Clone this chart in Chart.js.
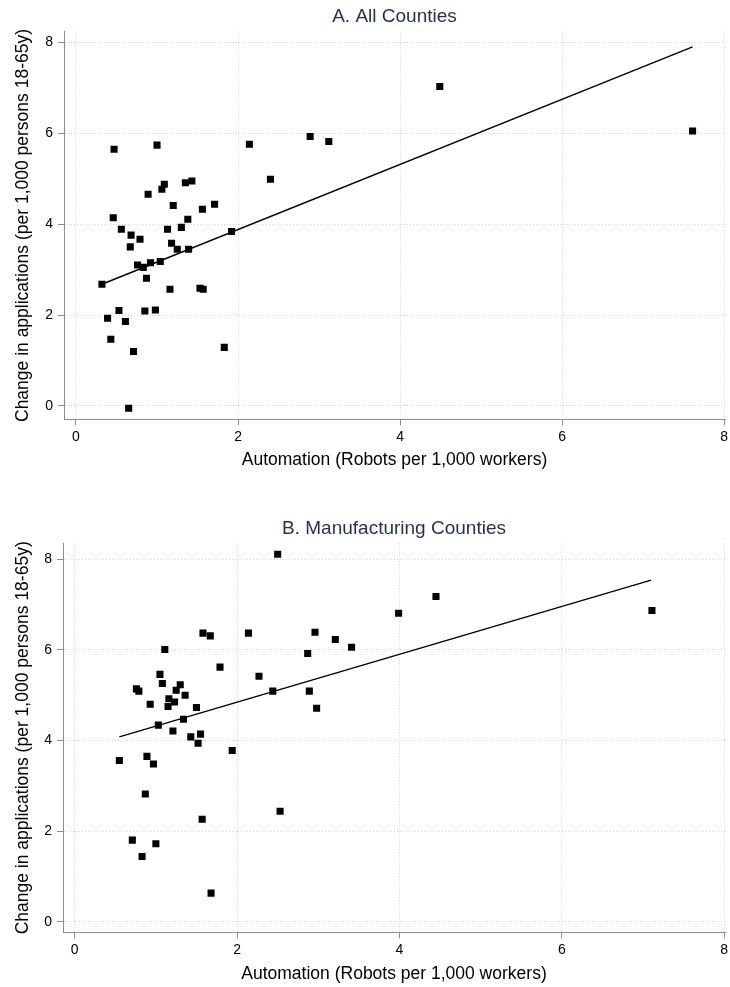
<!DOCTYPE html>
<html>
<head>
<meta charset="utf-8">
<script src="https://cdn.jsdelivr.net/npm/chart.js@4.4.1/dist/chart.umd.min.js"></script>
<style>
html,body{margin:0;padding:0;background:#fff;}
canvas{display:block;}
</style>
</head>
<body>
<canvas id="chartA" width="730" height="474"></canvas>
<canvas id="chartB" width="730" height="513"></canvas>
<script>
// Panel A: All Counties
const allX = [0.47,1.00,2.14,2.89,3.12,4.49,7.61,2.40,1.09,1.06,1.35,1.43,0.89,1.20,1.71,1.56,1.38,0.46,0.56,0.68,0.79,0.67,1.13,1.30,1.92,1.18,1.25,1.39,0.76,0.83,0.92,1.04,0.87,0.32,1.16,1.53,1.57,0.53,0.85,0.98,0.39,0.61,0.43,0.71,1.83,0.65];
const allY = [5.65,5.74,5.76,5.93,5.82,7.03,6.05,4.99,4.88,4.77,4.91,4.95,4.66,4.41,4.44,4.33,4.11,4.14,3.89,3.76,3.67,3.50,3.89,3.93,3.84,3.58,3.45,3.45,3.10,3.05,3.15,3.18,2.81,2.68,2.57,2.59,2.57,2.10,2.09,2.11,1.93,1.86,1.47,1.20,1.29,-0.05];
const fitAllX = [0.35, 7.61];
const fitAllY = [2.70, 7.90];

// Panel B: Manufacturing Counties
const mfgX = [1.58,1.67,2.14,1.11,1.79,2.27,1.05,1.08,0.76,0.79,1.30,1.25,1.36,2.44,1.16,1.23,1.15,0.93,1.50,1.34,1.03,1.21,1.43,1.55,1.52,1.94,0.55,0.89,0.97,0.87,2.53,1.57,0.71,1.00,0.83,1.68,2.87,2.89,2.50,2.96,3.21,3.41,2.98,3.99,4.45,7.11];
const mfgY = [6.37,6.31,6.37,6.01,5.62,5.42,5.46,5.26,5.14,5.09,5.23,5.11,5.00,5.09,4.92,4.85,4.75,4.80,4.73,4.47,4.34,4.21,4.08,4.14,3.94,3.78,3.56,3.65,3.48,2.82,2.44,2.26,1.80,1.72,1.44,0.63,5.92,5.09,8.11,6.39,6.23,6.06,4.71,6.81,7.18,6.87];
const fitMfgX = [0.55, 7.10];
const fitMfgY = [4.08, 7.54];

const xTicks = [0, 2, 4, 6, 8];
const yTicks = [0, 2, 4, 6, 8];

const titleA = 'A. All Counties';
const titleB = 'B. Manufacturing Counties';
const xTitle = 'Automation (Robots per 1,000 workers)';
const yTitle = 'Change in applications (per 1,000 persons 18-65y)';

const FONT = "'Liberation Sans', Arial, Helvetica, sans-serif";
const toPts = (xs, ys) => xs.map((x, i) => ({x: x, y: ys[i]}));

function build(id, xs, ys, fx, fy, cfg) {
  return new Chart(document.getElementById(id), {
    type: 'scatter',
    data: {
      datasets: [
        {
          data: toPts(xs, ys),
          pointStyle: 'rect',
          pointRadius: 5,
          pointHoverRadius: 5,
          pointBorderWidth: 0,
          backgroundColor: '#000',
          borderColor: '#000',
          order: 1
        },
        {
          type: 'line',
          data: toPts(fx, fy),
          showLine: true,
          pointRadius: 0,
          borderColor: '#000',
          borderWidth: 1.4,
          fill: false,
          order: 2
        }
      ]
    },
    options: {
      responsive: false,
      animation: false,
      devicePixelRatio: 1,
      layout: {padding: {top: cfg.padTop, right: 4, left: 0, bottom: 0}},
      plugins: {
        legend: {display: false},
        tooltip: {enabled: false},
        title: {
          display: true,
          text: cfg.title,
          fullSize: false,
          color: '#1f2f5e',
          font: {family: FONT, size: 19, weight: 'normal'},
          padding: {top: 5.6, bottom: 3.3}
        }
      },
      scales: {
        x: {
          type: 'linear',
          min: cfg.xMin,
          max: 8.01,
          afterBuildTicks: s => { s.ticks = xTicks.map(v => ({value: v})); },
          afterFit: s => { s.height = 54.7; s.paddingLeft = 0; s.paddingRight = 0; },
          grid: {color: '#d2d2d2', lineWidth: 1, tickLength: 6, tickColor: '#8c8c8c', tickWidth: 1, tickBorderDash: []},
          border: {display: true, color: '#8c8c8c', width: 1, dash: [1, 2]},
          ticks: {color: '#000', padding: 3, font: {family: FONT, size: 14}, callback: v => String(v)},
          title: {display: true, text: xTitle, color: '#000', font: {family: FONT, size: 17.5}, padding: {top: 0, bottom: cfg.xTitlePad}}
        },
        y: {
          type: 'linear',
          min: cfg.yMin,
          max: cfg.yMax,
          afterBuildTicks: s => { s.ticks = yTicks.map(v => ({value: v})); },
          afterFit: s => { s.width = cfg.yWidth; s.paddingTop = 0; s.paddingBottom = 0; },
          grid: {color: '#d2d2d2', lineWidth: 1, tickLength: 6, tickColor: '#8c8c8c', tickWidth: 1, tickBorderDash: []},
          border: {display: true, color: '#8c8c8c', width: 1, dash: [1, 2]},
          ticks: {color: '#000', padding: 5, font: {family: FONT, size: 14}, callback: v => String(v)},
          title: {display: true, text: yTitle, color: '#000', font: {family: FONT, size: 17.5}, padding: {top: 12.5, bottom: 0}}
        }
      }
    }
  });
}

build('chartA', allX, allY, fitAllX, fitAllY, {
  title: titleA, padTop: 0, xMin: -0.148, yMin: -0.293, yMax: 8.235, yWidth: 64, xTitlePad: 3
});
build('chartB', mfgX, mfgY, fitMfgX, fitMfgY, {
  title: titleB, padTop: 37.6, xMin: -0.144, yMin: -0.234, yMax: 8.353, yWidth: 63, xTitlePad: 2
});
</script>
</body>
</html>
